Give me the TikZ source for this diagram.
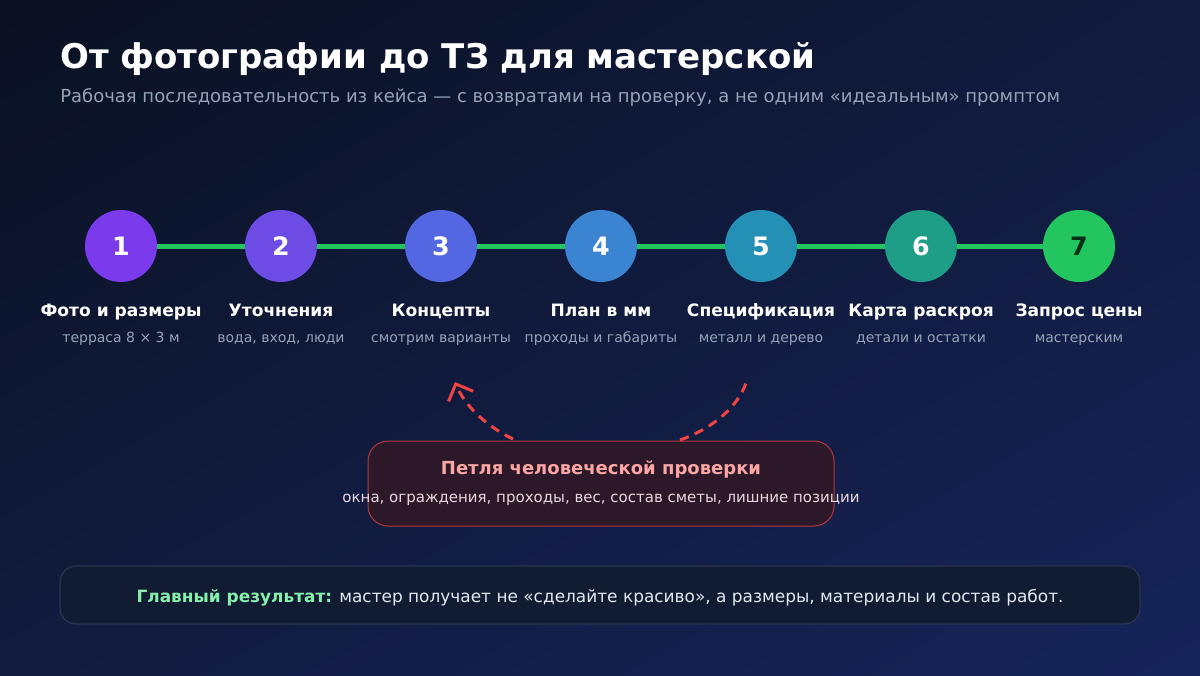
\documentclass[tikz,border=0pt]{standalone}
\usepackage{fontspec}
\setmainfont{DejaVu Sans}
\usetikzlibrary{arrows.meta}
\usetikzlibrary{shadings}

\definecolor{bgtl}{HTML}{0A1122}
\definecolor{bgbr}{HTML}{17245A}
\definecolor{bgm}{HTML}{111B3E}
\definecolor{subgray}{HTML}{94A3B8}
\definecolor{linegreen}{HTML}{22C55E}
\definecolor{loopred}{HTML}{EF4444}
\definecolor{loopfill}{HTML}{2C1828}
\definecolor{looptitle}{HTML}{FCA5A5}
\definecolor{looptext}{HTML}{E8D8DE}
\definecolor{resfill}{HTML}{111C33}
\definecolor{resline}{HTML}{2A3652}
\definecolor{resgreen}{HTML}{86EFAC}
\definecolor{restext}{HTML}{E2E8F0}
\definecolor{cA}{HTML}{7C3AED}
\definecolor{cB}{HTML}{6D4CE6}
\definecolor{cC}{HTML}{5467E2}
\definecolor{cD}{HTML}{3B84D2}
\definecolor{cE}{HTML}{2590B6}
\definecolor{cF}{HTML}{1E9E86}
\definecolor{cG}{HTML}{22C55E}
\definecolor{darkgreen}{HTML}{052E16}

\tikzset{
  stepdot/.style={circle, minimum size=54pt, inner sep=0pt, text=white, font=\bfseries\fontsize{19pt}{21pt}\selectfont},
  steplabel/.style={anchor=base, text=white, font=\bfseries\fontsize{12.8pt}{15pt}\selectfont},
  stepnote/.style={anchor=base, text=subgray, font=\fontsize{10.5pt}{12pt}\selectfont},
  loopline/.style={loopred, line width=2.25pt, dash pattern=on 7pt off 5pt}
}

\begin{document}
\begin{tikzpicture}[x=0.75pt, y=-0.75pt]
\useasboundingbox (0,0) rectangle (1200,675);
\shade[upper left=bgtl, upper right=bgm, lower left=bgm, lower right=bgbr] (0,0) rectangle (1200,675);

% header
\node[anchor=base west, inner sep=0pt, text=white, font=\bfseries\fontsize{25.5pt}{30pt}\selectfont] (title) at (60,68) {От фотографии до ТЗ для мастерской};
\node[anchor=base west, inner sep=0pt, text=subgray, font=\fontsize{13.5pt}{16pt}\selectfont] (subtitle) at (60,102) {Рабочая последовательность из кейса — с возвратами на проверку, а не одним «идеальным» промптом};

% steps
\foreach \i/\x/\t/\n in {1/121/Фото и размеры/терраса 8 × 3 м,
                         2/281/Уточнения/{вода, вход, люди},
                         3/441/Концепты/смотрим варианты,
                         4/601/План в мм/проходы и габариты,
                         5/761/Спецификация/металл и дерево,
                         6/921/Карта раскроя/детали и остатки,
                         7/1079/Запрос цены/мастерским} {
  \coordinate (p\i) at (\x,246);
  \node[steplabel] (t\i) at (\x,316) {\t};
  \node[stepnote] (n\i) at (\x,342) {\n};
}
\foreach \a/\b in {1/2, 2/3, 3/4, 4/5, 5/6, 6/7}
  \draw[linegreen, line width=3.75pt] (p\a) -- (p\b);
\foreach \i/\c in {1/cA, 2/cB, 3/cC, 4/cD, 5/cE, 6/cF}
  \node[stepdot, fill=\c] (s\i) at (p\i) {\i};
\node[stepdot, fill=cG, text=darkgreen] (s7) at (p7) {7};

% loop
\node[draw=loopred!70!loopfill, line width=0.75pt, fill=loopfill, rounded corners=15pt, minimum width=349.5pt, minimum height=63.75pt] (loop) at (601,483.5) {};
\node[anchor=base, text=looptitle, font=\bfseries\fontsize{13.5pt}{16pt}\selectfont] (looptitle) at (601,474) {Петля человеческой проверки};
\node[anchor=base, text=looptext, font=\fontsize{11.25pt}{13pt}\selectfont] (loopnote) at (601,502) {окна, ограждения, проходы, вес, состав сметы, лишние позиции};
\coordinate (la) at (513,439);
\coordinate (lb) at (455,382);
\coordinate (ra) at (680,440);
\coordinate (rb) at (746,383);
\draw[loopline, -{Straight Barb[length=10pt, width=20pt, line width=2.25pt]}] (la) .. controls (484,425) and (464,404) .. (lb);
\draw[loopline] (ra) .. controls (714,428) and (738,406) .. (rb);

% result
\node[draw=resline, line width=0.9pt, fill=resfill, rounded corners=12pt, minimum width=810pt, minimum height=43.5pt] (result) at (600,595) {};
\node[anchor=base, text=restext, font=\fontsize{12.7pt}{15pt}\selectfont] (resnote) at (600,602) {{\bfseries\color{resgreen}Главный результат:} мастер получает не «сделайте красиво», а размеры, материалы и состав работ.};
\end{tikzpicture}
\end{document}
